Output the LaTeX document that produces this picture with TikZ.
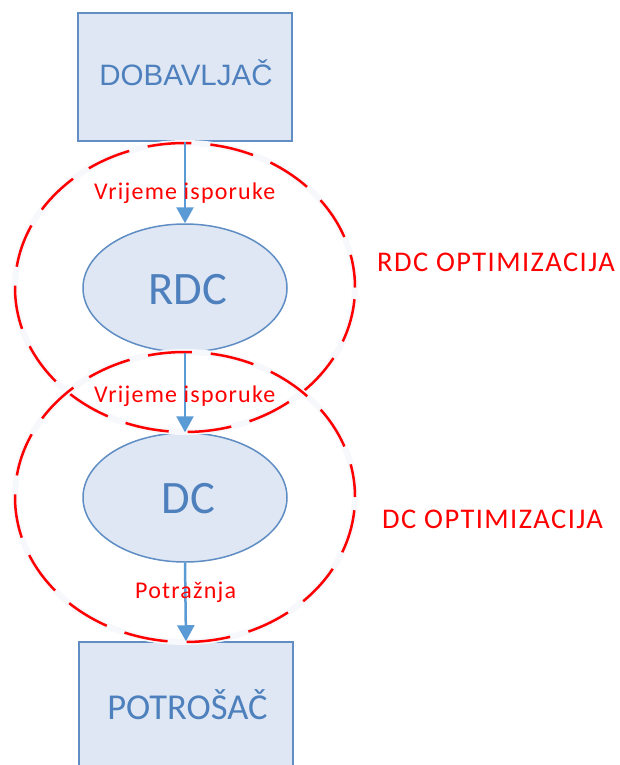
\documentclass[tikz,border=0pt]{standalone}
\usepackage{fontspec}
\setmainfont{Carlito}
\newfontfamily\arialf{Liberation Sans}
\newfontfamily\lblf[LetterSpace=5]{Carlito}
\newfontfamily\optf[LetterSpace=5]{Carlito}
\usetikzlibrary{arrows.meta,shapes.geometric}
\definecolor{bfill}{HTML}{DEE7F3}
\definecolor{bdraw}{HTML}{5F8DC4}
\definecolor{btext}{HTML}{4E80BD}
\definecolor{arr}{HTML}{5B9BD5}
\definecolor{glow}{HTML}{F6F8FC}
\begin{document}
\begin{tikzpicture}[x=1pt,y=-1pt,
  box/.style={draw=bdraw,fill=bfill,line width=1.5pt,inner sep=0pt,rectangle},
  oval/.style={draw=bdraw,fill=bfill,line width=1.5pt,inner sep=0pt,ellipse},
  btxt/.style={text=btext,anchor=base,inner sep=0pt},
  rtxt/.style={text=red,inner sep=0pt},
  flow/.style={draw=arr,line width=2.5pt,-{Triangle[width=17pt,length=16pt]}},
  glowline/.style={draw=glow,line width=6pt},
  dashline/.style={draw=red,line width=2.5pt,dash pattern=on 44pt off 19pt,dash phase=11pt}]
\useasboundingbox (0,0) rectangle (620,765);
\clip (0,0) rectangle (620,765);
\fill[white] (0,0) rectangle (620,765);
% blue shapes
\node[box,minimum width=214pt,minimum height=128pt] (dob) at (185,77) {};
\node[oval,minimum width=204pt,minimum height=128pt] (rdc) at (185,288) {};
\node[oval,minimum width=204pt,minimum height=129pt] (dc) at (185,497.5) {};
\node[box,minimum width=214pt,minimum height=158pt] (pot) at (186,721) {};
% dashed optimisation regions
\draw[glowline] (185,287.5) ellipse [x radius=170pt, y radius=144.5pt];
\draw[dashline] (185,287.5) ellipse [x radius=170pt, y radius=144.5pt];
\draw[glowline] (185,497) ellipse [x radius=170pt, y radius=145pt];
\draw[dashline] (185,497) ellipse [x radius=170pt, y radius=145pt];
% connectors
\draw[flow] (dob.south) -- (rdc.north);
\draw[flow] (rdc.south) -- (dc.north);
\draw[flow] (dc.south) -- (pot.north);
% texts
\node[btxt,font=\arialf\fontsize{29.5}{30}\selectfont] (tdob) at (186,86) {DOBAVLJAČ};
\node[btxt,font=\fontsize{46.5}{48}\selectfont] (trdc) at (188,304) {RDC};
\node[btxt,font=\fontsize{46.5}{48}\selectfont] (tdc) at (188.5,513) {DC};
\node[btxt,font=\fontsize{36.5}{38}\selectfont] (tpot) at (187.5,719) {POTROŠAČ};
\node[rtxt,anchor=base west,font=\lblf\fontsize{24}{26}\selectfont] (l1) at (94,199.3) {Vrijeme isporuke};
\node[rtxt,anchor=base west,font=\lblf\fontsize{24}{26}\selectfont] (l2) at (94,402) {Vrijeme isporuke};
\node[rtxt,anchor=base west,font=\lblf\fontsize{24}{26}\selectfont] (l3) at (135,598.3) {Potražnja};
\node[rtxt,anchor=base west,font=\optf\fontsize{28.5}{31}\selectfont] (o1) at (377,271.7) {RDC OPTIMIZACIJA};
\node[rtxt,anchor=base west,font=\optf\fontsize{28.5}{31}\selectfont] (o2) at (382,528) {DC OPTIMIZACIJA};
\end{tikzpicture}
\end{document}
